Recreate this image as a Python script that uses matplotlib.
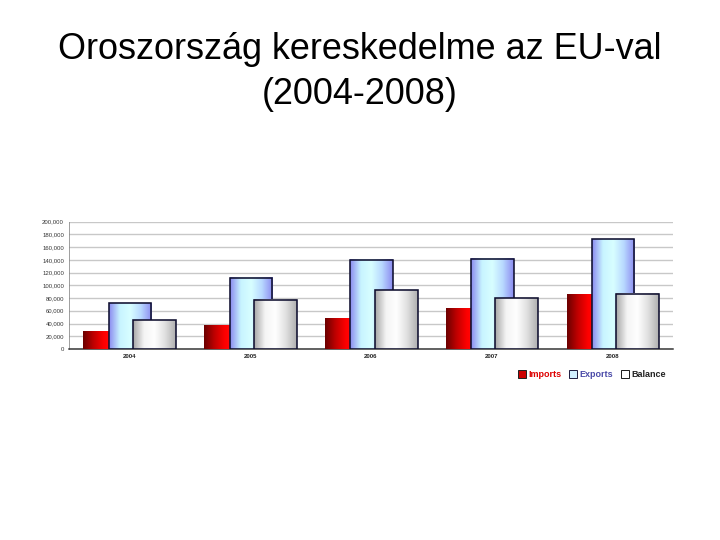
import numpy as np
import matplotlib
matplotlib.use("Agg")
import matplotlib.pyplot as plt
from matplotlib.patches import Rectangle, Patch
from matplotlib.colors import LinearSegmentedColormap

years = ["2004", "2005", "2006", "2007", "2008"]
imports = [28000, 36500, 48500, 63500, 85000]
exports = [71500, 112000, 140000, 142000, 172500]
balance = [45000, 77000, 92000, 80000, 87000]

plt.rcParams['font.family'] = ['Liberation Sans', 'DejaVu Sans']

fig = plt.figure(figsize=(10, 7.5), dpi=72)
fig.text(0.5, 0.866, "Oroszország kereskedelme az EU-val\n(2004-2008)",
         ha='center', va='center', fontsize=36, linespacing=1.38)

ax = fig.add_axes([0.0958, 0.3537, 0.839, 0.236])

cm_red = LinearSegmentedColormap.from_list("r", ["#6b0000", "#c00000", "#ff0000", "#ff1010"])
cm_blue = LinearSegmentedColormap.from_list("b", ["#8c8cf0", "#c8f4ff", "#d8ffff", "#b8d8ff", "#8c8cf0"])
cm_grey = LinearSegmentedColormap.from_list("g", ["#a8a8a8", "#f4f4f4", "#ffffff", "#e0e0e0", "#b0b0b0"])

grad = np.linspace(0, 1, 64).reshape(1, -1)


def gbar(x0, x1, h, cmap, z, edge=True):
    ax.imshow(grad, cmap=cmap, extent=(x0, x1, 0, h), aspect='auto',
              zorder=z, interpolation='bicubic')
    if edge:
        ax.add_patch(Rectangle((x0, 0), x1 - x0, h, fill=False,
                               ec='#101030', lw=1.6, zorder=z + 0.1))


for i in range(len(years)):
    gbar(i - 0.38, i - 0.12, imports[i], cm_red, 3, edge=False)
    gbar(i - 0.17, i + 0.18, exports[i], cm_blue, 4)
    gbar(i + 0.03, i + 0.385, balance[i], cm_grey, 5)

ax.set_xlim(-0.5, len(years) - 0.5)
ax.set_ylim(0, 200000)
yt = np.arange(0, 200001, 20000)
ax.set_yticks(yt)
ax.set_yticklabels(["0" if v == 0 else f"{v:,}" for v in yt],
                   fontsize=6, color='#333333')
ax.set_xticks(range(len(years)))
ax.set_xticklabels(years, fontsize=6, fontweight='bold', color='#222222')
ax.tick_params(length=0, pad=5)
ax.yaxis.grid(True, color='#c8c8c8', lw=1.4, zorder=0)
ax.set_axisbelow(True)
for s in ['top', 'right']:
    ax.spines[s].set_visible(False)
ax.spines['left'].set_color('#888888')
ax.spines['bottom'].set_color('#333333')
ax.spines['bottom'].set_linewidth(1.5)

handles = [Patch(fc='#cc0000', ec='#222222'), Patch(fc='#d0f0ff', ec='#222244'),
           Patch(fc='#ffffff', ec='#222222')]
ax.legend(handles, ["Imports", "Exports", "Balance"], loc='center',
          bbox_to_anchor=(0.822, 0.306), bbox_transform=fig.transFigure,
          ncol=3, frameon=False, handlelength=0.9, handleheight=0.9,
          handletextpad=0.25, columnspacing=0.9,
          prop={'weight': 'bold', 'size': 9},
          labelcolor=['#dd0000', '#4a4aa8', '#222222'])

fig.savefig("out.png", dpi=72)
